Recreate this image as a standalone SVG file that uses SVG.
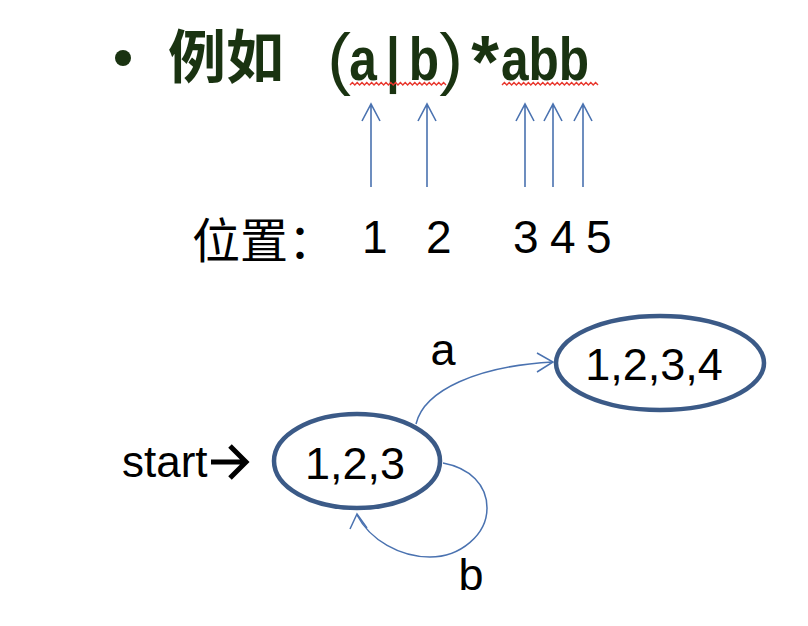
<svg xmlns="http://www.w3.org/2000/svg" width="808" height="626" viewBox="0 0 808 626">
<style>
.t{font-family:"Liberation Sans",Arial,sans-serif;font-weight:bold;font-size:62px;fill:#1a3311;text-anchor:middle}
.t.p{font-weight:normal}
.cjk{font-family:"Noto Sans CJK SC",sans-serif}
.n{font-family:"Liberation Sans",Arial,sans-serif;font-size:46px;fill:#000}
.lbl{font-family:"Liberation Sans",Arial,sans-serif;font-size:45px;fill:#000;text-anchor:middle}
.pos{stroke:#4a72b0;stroke-width:1.6;fill:none}
.edge{stroke:#4a72b0;stroke-width:1.5;fill:none}
.state{fill:#fff;stroke:#3b5a87;stroke-width:4.5}
.wave{stroke:#e8362c;stroke-width:1.4;fill:none}
</style>
<rect width="808" height="626" fill="#fff"/>
<g id="title">
<circle cx="123" cy="58" r="8" fill="#1a3311"/>
<text x="168" y="78" class="cjk" font-size="58" font-weight="bold" fill="#1a3311">例如</text>
<text class="t p" transform="translate(339,82) scale(1.15,1.1)">(</text>
<text class="t" transform="translate(363,80) scale(0.8,1)">a</text>
<text class="t" transform="translate(393,80) scale(0.8,1)">|</text>
<text class="t" transform="translate(424,80) scale(0.8,1)">b</text>
<text class="t p" transform="translate(451,82) scale(1.15,1.1)">)</text>
<text class="t" transform="translate(485,87) scale(1.15,1.2)">*</text>
<text class="t" transform="translate(545,80) scale(0.8,1)">abb</text>
<path class="wave" d="M350,85 l2.4,-2.4 l2.4,2.4 l2.4,-2.4 l2.4,2.4 l2.4,-2.4 l2.4,2.4 l2.4,-2.4 l2.4,2.4 l2.4,-2.4 l2.4,2.4 l2.4,-2.4 l2.4,2.4 l2.4,-2.4 l2.4,2.4 l2.4,-2.4 l2.4,2.4 l2.4,-2.4 l2.4,2.4 l2.4,-2.4 l2.4,2.4 l2.4,-2.4 l2.4,2.4 l2.4,-2.4 l2.4,2.4 l2.4,-2.4 l2.4,2.4 l2.4,-2.4 l2.4,2.4 l2.4,-2.4 l2.4,2.4 l2.4,-2.4 l2.4,2.4 l2.4,-2.4 l2.4,2.4 l2.4,-2.4 l2.4,2.4 l2.4,-2.4 l2.4,2.4 l2.4,-2.4 l2.4,2.4"/>
<path class="wave" d="M502,85 l2.4,-2.4 l2.4,2.4 l2.4,-2.4 l2.4,2.4 l2.4,-2.4 l2.4,2.4 l2.4,-2.4 l2.4,2.4 l2.4,-2.4 l2.4,2.4 l2.4,-2.4 l2.4,2.4 l2.4,-2.4 l2.4,2.4 l2.4,-2.4 l2.4,2.4 l2.4,-2.4 l2.4,2.4 l2.4,-2.4 l2.4,2.4 l2.4,-2.4 l2.4,2.4 l2.4,-2.4 l2.4,2.4 l2.4,-2.4 l2.4,2.4 l2.4,-2.4 l2.4,2.4 l2.4,-2.4 l2.4,2.4 l2.4,-2.4 l2.4,2.4 l2.4,-2.4 l2.4,2.4 l2.4,-2.4 l2.4,2.4 l2.4,-2.4 l2.4,2.4 l2.4,-2.4 l2.4,2.4"/>
</g>
<g id="position-arrows">
<path class="pos" d="M371,187 V104 M362,121 L371,104 L380,121"/>
<path class="pos" d="M427,187 V104 M418,121 L427,104 L436,121"/>
<path class="pos" d="M525,187 V104 M516,121 L525,104 L534,121"/>
<path class="pos" d="M553,187 V104 M544,121 L553,104 L562,121"/>
<path class="pos" d="M583,187 V104 M574,121 L583,104 L592,121"/>
</g>
<g id="positions">
<text x="192" y="258" class="cjk" font-size="48" fill="#000">位置：</text>
<text x="362" y="253" class="n">1</text>
<text x="426" y="253" class="n">2</text>
<text x="513" y="253" class="n">3</text>
<text x="550" y="253" class="n">4</text>
<text x="586" y="253" class="n">5</text>
</g>
<g id="connectors">
<path class="edge" d="M416,424 C424,390 478,366 553,362"/>
<path class="edge" d="M537,353 L553,362 L537,372"/>
<path class="edge" d="M443,463 C470,468 487,485 487,508 C487,535 460,557 430,557 C400,557 370,540 357,515"/>
<path class="edge" d="M350,529 L357,514 L367,528"/>
<text x="443" y="365" class="lbl" font-size="44">a</text>
<text x="471" y="590" class="lbl" font-size="44">b</text>
</g>
<g id="start">
<text x="122" y="477" font-family="Liberation Sans, Arial, sans-serif" font-size="44" fill="#000">start</text>
<path d="M211,462 H245 M230,446 L246,462 L230,478" stroke="#000" stroke-width="5" fill="none"/>
</g>
<g id="state-123">
<ellipse class="state" cx="357" cy="461" rx="83" ry="47"/>
<text x="355" y="479" class="lbl">1,2,3</text>
</g>
<g id="state-1234">
<ellipse class="state" cx="660" cy="363" rx="104" ry="47"/>
<text x="654" y="380" class="lbl">1,2,3,4</text>
</g>
</svg>
